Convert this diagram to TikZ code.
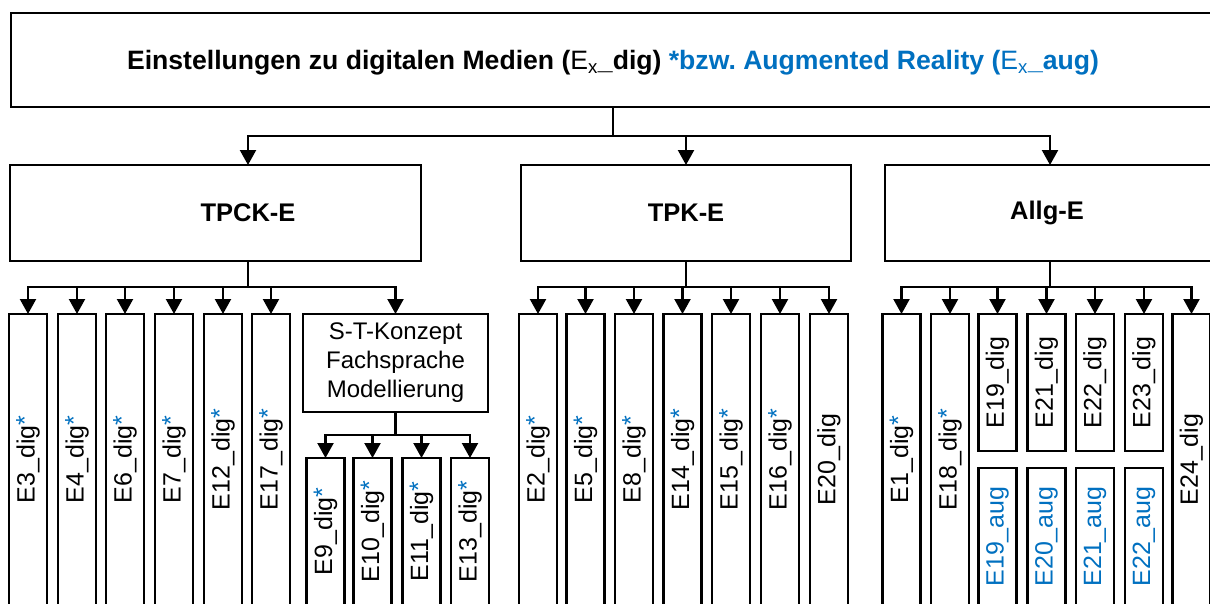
\documentclass[tikz,border=0pt]{standalone}
\usepackage{fontspec}
\setmainfont{Liberation Sans}
\usetikzlibrary{arrows.meta,calc}
\definecolor{augblue}{RGB}{0,112,192}
\frenchspacing

% blue asterisk marking items that also exist as AR variants
\newcommand\bstar{\textcolor{augblue}{\raisebox{0.05em}{*}}}
% vertical label inside a narrow box
\newcommand\vlab[1]{\rotatebox{90}{#1}}
% serif E with subscript x
\newcommand\Ex{\ensuremath{\mathrm{E}_{\mathrm{x}}}}

\tikzset{
  box/.style={draw=black, line width=2.2pt, fill=white, inner sep=0pt, outer sep=0pt},
  headfont/.style={font=\bfseries\fontsize{25.5}{30}\selectfont},
  head/.style={box, headfont},
  leaf/.style={box, minimum width=38pt, font=\fontsize{25}{29}\selectfont},
  tall/.style={leaf, minimum height=291pt},
  link/.style={line width=2.2pt},
  arr/.style={link, -{Triangle[width=16pt,length=15pt]}},
}

\begin{document}
\begin{tikzpicture}[x=1pt,y=-1pt]
\useasboundingbox (0,0) rectangle (1210,603);
\clip (0,0) rectangle (1210,603);

% ---- top level ----
\node[box, minimum width=1204pt, minimum height=94pt] (title) at (613,60) {};
\node[inner sep=0pt, font=\bfseries\fontsize{26.6}{30}\selectfont] (titleT) at ([yshift=-3pt]title.center)
  {Einstellungen zu digitalen Medien (\Ex\_dig) \textcolor{augblue}{*bzw. Augmented Reality (\Ex\_aug)}};

% ---- second level ----
\node[head, minimum width=411pt, minimum height=96pt] (tpck) at (215.5,213) {};
\node[headfont, inner sep=0pt] (tpckT) at ([xshift=238pt]tpck.west) {TPCK-E};
\node[head, minimum width=330pt, minimum height=96pt] (tpk)  at (686,213)   {TPK-E};
\node[head, minimum width=330pt, minimum height=96pt] (allg) at (1050,213)  {};
\node[headfont, inner sep=0pt] (allgT) at ([xshift=-3pt]allg.center) {Allg-E};

% ---- TPCK-E items ----
\node[tall] (e3)  at (28,459.5)  {\vlab{E3\_dig\bstar}};
\node[tall] (e4)  at (77,459.5)  {\vlab{E4\_dig\bstar}};
\node[tall] (e6)  at (125,459.5) {\vlab{E6\_dig\bstar}};
\node[tall] (e7)  at (174,459.5) {\vlab{E7\_dig\bstar}};
\node[tall] (e12) at (223,459.5) {\vlab{E12\_dig\bstar}};
\node[tall] (e17) at (271,459.5) {\vlab{E17\_dig\bstar}};
\node[box, minimum width=185pt, minimum height=98pt, align=center,
      font=\fontsize{24}{29}\selectfont] (stk) at (395.5,363)
  {S-T-Konzept\\Fachsprache\\Modellierung};
\node[leaf, minimum height=147pt] (e9)  at (325.5,531.5) {\vlab{E9\_dig\bstar}};
\node[leaf, minimum height=147pt] (e10) at (372.5,531.5) {\vlab{E10\_dig\bstar}};
\node[leaf, minimum height=147pt] (e11) at (421.5,531.5) {\vlab{E11\_dig\bstar}};
\node[leaf, minimum height=147pt] (e13) at (470,531.5)   {\vlab{E13\_dig\bstar}};

% ---- TPK-E items ----
\node[tall] (e2)  at (538,459.5)   {\vlab{E2\_dig\bstar}};
\node[tall] (e5)  at (585.5,459.5) {\vlab{E5\_dig\bstar}};
\node[tall] (e8)  at (634,459.5)   {\vlab{E8\_dig\bstar}};
\node[tall] (e14) at (682.5,459.5) {\vlab{E14\_dig\bstar}};
\node[tall] (e15) at (731,459.5)   {\vlab{E15\_dig\bstar}};
\node[tall] (e16) at (780,459.5)   {\vlab{E16\_dig\bstar}};
\node[tall] (e20) at (829,459.5)   {\vlab{E20\_dig}};

% ---- Allg-E items ----
\node[tall] (e1)  at (901.5,459.5) {\vlab{E1\_dig\bstar}};
\node[tall] (e18) at (950,459.5)   {\vlab{E18\_dig\bstar}};
\node[leaf, minimum height=137pt] (e19) at (997.5,382.5)  {\vlab{E19\_dig}};
\node[leaf, minimum height=137pt] (e21) at (1046.5,382.5) {\vlab{E21\_dig}};
\node[leaf, minimum height=137pt] (e22) at (1095,382.5)   {\vlab{E22\_dig}};
\node[leaf, minimum height=137pt] (e23) at (1144,382.5)   {\vlab{E23\_dig}};
\node[tall] (e24) at (1191.5,459.5) {\vlab{E24\_dig}};
\node[leaf, minimum height=137pt, text=augblue] (a19) at (997.5,536.5)  {\vlab{E19\_aug}};
\node[leaf, minimum height=137pt, text=augblue] (a20) at (1046.5,536.5) {\vlab{E20\_aug}};
\node[leaf, minimum height=137pt, text=augblue] (a21) at (1095,536.5)   {\vlab{E21\_aug}};
\node[leaf, minimum height=137pt, text=augblue] (a22) at (1144,536.5)   {\vlab{E22\_aug}};

% ---- connectors ----
\coordinate (hubTop) at ($(title.south)+(0,29)$);
\draw[link] (title.south) -- (hubTop);
\draw[arr] (hubTop) -| ([xshift=238pt]tpck.north west);
\draw[arr] (hubTop) -| (tpk.north);
\draw[arr] (hubTop) -| (allg.north);

\coordinate (hubA) at ($([xshift=238pt]tpck.south west)+(0,26)$);
\draw[link] ([xshift=238pt]tpck.south west) -- (hubA);
\foreach \n in {e3,e4,e6,e7,e12,e17,stk} \draw[arr] (hubA) -| (\n.north);

\coordinate (hubS) at ($(stk.south)+(0,23)$);
\draw[link] (stk.south) -- (hubS);
\foreach \n in {e9,e10,e11,e13} \draw[arr] (hubS) -| (\n.north);

\coordinate (hubB) at ($(tpk.south)+(0,26)$);
\draw[link] (tpk.south) -- (hubB);
\foreach \n in {e2,e5,e8,e14,e15,e16,e20} \draw[arr] (hubB) -| (\n.north);

\coordinate (hubC) at ($(allg.south)+(0,26)$);
\draw[link] (allg.south) -- (hubC);
\foreach \n in {e1,e18,e19,e21,e22,e23,e24} \draw[arr] (hubC) -| (\n.north);
\end{tikzpicture}
\end{document}
